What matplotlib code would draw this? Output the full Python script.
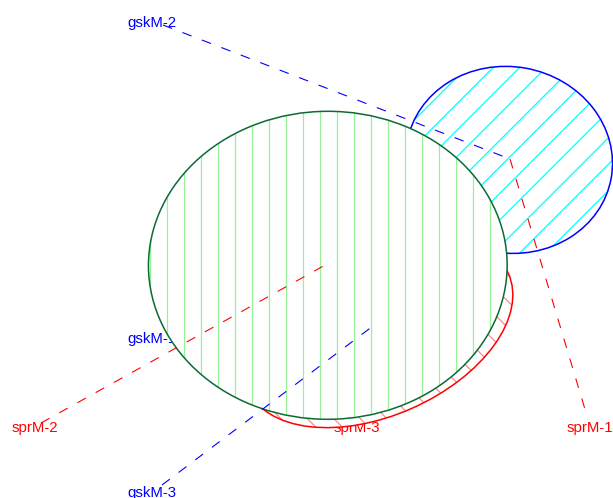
import numpy as np
import matplotlib
matplotlib.use("Agg")
import matplotlib.pyplot as plt
from matplotlib.patches import Ellipse
from matplotlib.collections import LineCollection

plt.rcParams["font.family"] = ["Liberation Sans", "DejaVu Sans"]
plt.rcParams["lines.scale_dashes"] = False

# ellipses, drawn in this order (last one on top); pixel coords, y down
centers = [(378.0, 331.5), (509.2, 159.9), (327.8, 265.3)]
widths = [285.4, 207.2, 358.7]
heights = [168.0, 186.4, 308.0]
angles = [-23.9, 10.1, -0.3]
edge_colors = ["#ff0000", "#0000ff", "#0b6b35"]
hatch_colors = ["#ff8888", "#00ffff", "#98f098"]
hatch_kind = ["back", "fwd", "vert"]

labels = ["gskM-2", "gskM-1", "gskM-3", "sprM-2", "sprM-3", "sprM-1"]
label_x = [127, 127, 127, 12, 334, 567]
label_y = [26.5, 342.5, 496.5, 431.5, 431.5, 431.5]
label_colors = ["#0000ff", "#0000ff", "#0000ff", "#ff0000", "#ff0000", "#ff0000"]

leader_from = [(163, 25), (510, 159), (41, 423), (162, 485)]
leader_to = [(510, 159), (587, 416), (327, 264), (373, 326)]
leader_colors = ["#0000ff", "#ff0000", "#ff0000", "#0000ff"]

fig = plt.figure(figsize=(6.13, 4.98), dpi=100)
ax = fig.add_axes([0, 0, 1, 1])
ax.set_xlim(0, 613)
ax.set_ylim(498, 0)
ax.axis("off")


def hatch_lines(kind):
    # hatch strokes across the whole canvas, clipped to each ellipse below
    if kind == "vert":
        return [[(x, 0), (x, 498)] for x in np.arange(252.3 - 17 * 15, 620, 17)]
    if kind == "fwd":   # x + y = c
        return [[(c, 0), (c - 498, 498)] for c in np.arange(666.7 - 26.5 * 25, 1120, 26.5)]
    return [[(c, 0), (c + 498, 498)] for c in np.arange(206.7 - 26.5 * 25, 620, 26.5)]


for i, (xy, w, h, a) in enumerate(zip(centers, widths, heights, angles)):
    z = 2 + i
    body = Ellipse(xy, w, h, angle=a, facecolor="white", edgecolor="none", zorder=z)
    ax.add_patch(body)
    lc = LineCollection(hatch_lines(hatch_kind[i]), colors=hatch_colors[i], linewidths=0.9, zorder=z + 0.2)
    ax.add_collection(lc)
    lc.set_clip_path(body)
    ax.add_patch(Ellipse(xy, w, h, angle=a, fill=False, edgecolor=edge_colors[i],
                         linewidth=1.1, zorder=z + 0.5))

# labels sit under the ellipses, leader lines on top
for lab, x, y, c in zip(labels, label_x, label_y, label_colors):
    ax.text(x, y, lab, color=c, fontsize=10.8, ha="left", va="baseline", zorder=1)

for (x0, y0), (x1, y1), c in zip(leader_from, leader_to, leader_colors):
    ax.plot([x0, x1], [y0, y1], color=c, linewidth=0.8, dashes=(7, 8), zorder=10)

fig.savefig("out.png", dpi=100)
